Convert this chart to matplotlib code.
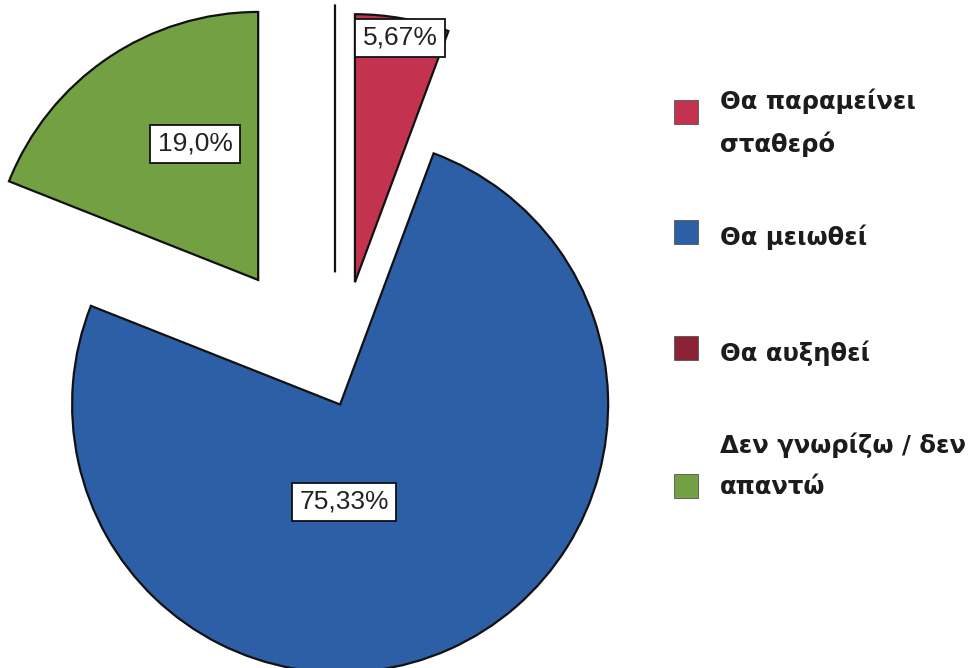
import matplotlib.pyplot as plt
from matplotlib.patches import Rectangle

# slice values, clockwise from 12 o'clock (the 0% answer sits at the top seam)
slice_names = ["Θα παραμείνει σταθερό", "Θα μειωθεί", "Δεν γνωρίζω / δεν απαντώ", "Θα αυξηθεί"]
slice_values = [5.67, 75.33, 19.0, 0.0]
slice_colors = ["#c3334f", "#2c5fa5", "#72a042", "#8c2236"]
pct_labels = ["5,67%", "75,33%", "19,0%", None]

# legend order as in the original
legend_labels = ["Θα παραμείνει\nσταθερό", "Θα μειωθεί", "Θα αυξηθεί", "Δεν γνωρίζω / δεν\nαπαντώ"]
legend_colors = ["#c3334f", "#2c5fa5", "#8c2236", "#72a042"]

W, H = 973, 668
fig = plt.figure(figsize=(W / 100, H / 100), dpi=100)
ax = fig.add_axes([0, 0, 1, 1])

wedges, _ = ax.pie(
    slice_values,
    colors=slice_colors,
    explode=[0.42, 0.047, 0.51, 0.45],
    startangle=90,
    counterclock=False,
    radius=1.0,
    wedgeprops=dict(edgecolor="#111111", linewidth=1.6),
)

# one pie radius = 268 px, pie centre at (335, 393) px from top-left
r_px = 268.0
cx, cy = 335.0, 393.0
ax.set_xlim(-cx / r_px, (W - cx) / r_px)
ax.set_ylim(-(H - cy) / r_px, cy / r_px)
ax.set_aspect("equal")
ax.axis("off")

# percentage boxes (pixel positions of the box centres)
label_px = [(400, 38), (344, 502), (195, 144), None]
for txt, pos in zip(pct_labels, label_px):
    if txt is None:
        continue
    ax.text(
        pos[0] / W, 1 - pos[1] / H, txt,
        transform=ax.transAxes, ha="center", va="center",
        fontsize=19, family="Liberation Sans", color="#222222",
        bbox=dict(boxstyle="square,pad=0.28", fc="white", ec="#111111", lw=1.3),
    )

# hand-built legend: square centre y, first text line centre y
sq_y = [112, 232, 348, 486]
txt_y = [101, 238, 353, 445]
for lab, col, sy, ty in zip(legend_labels, legend_colors, sq_y, txt_y):
    fig.patches.append(
        Rectangle(
            (674 / W, 1 - (sy + 12) / H), 24 / W, 24 / H,
            transform=fig.transFigure, facecolor=col, edgecolor="#555555", lw=0.6,
        )
    )
    fig.text(
        720 / W, 1 - (ty - 13) / H, lab,
        ha="left", va="top", fontsize=17.5, fontweight="bold",
        family="DejaVu Sans", color="#1c1c1c", linespacing=1.9,
    )

fig.savefig("out.png", dpi=100)
